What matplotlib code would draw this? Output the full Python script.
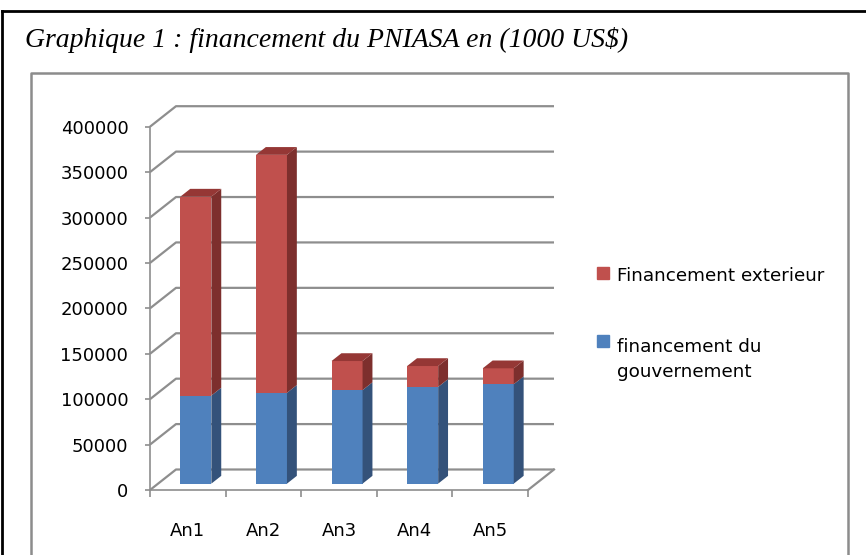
import matplotlib.pyplot as plt
from matplotlib.patches import Polygon, Rectangle
from matplotlib.lines import Line2D

categories = ['An1', 'An2', 'An3', 'An4', 'An5']
gouvernement = [97000, 100000, 103000, 106500, 109500]
exterieur = [219000, 262000, 32000, 23000, 17500]
series_names = ['Financement exterieur', 'financement du\ngouvernement']
yticks = list(range(0, 400001, 50000))
title = 'Graphique 1 : financement du PNIASA en (1000 US$)'

front_col = {'gov': '#4F81BD', 'ext': '#C0504D'}
side_col = {'gov': '#34527A', 'ext': '#7D2F2D'}
top_col = {'gov': '#3E6494', 'ext': '#953735'}
GRID = '#8E8E8E'

W, H = 866, 555
fig = plt.figure(figsize=(W / 100, H / 100), dpi=100)
ax = fig.add_axes([0, 0, 1, 1])
ax.patch.set_visible(False)

# front plane: category unit = 75.6 px, value -> px
X0, XU = 150, 75.6
Y0, YU = 490, 363.3 / 400000
ax.set_xlim(-X0 / XU, (W - X0) / XU)
ax.set_ylim(-(H - Y0) / YU, Y0 / YU)

# depth offset of the 3d box (in data units)
DX = 26 / XU
DY = 20.5 / YU
n = len(categories)

# walls / gridlines
for v in yticks:
    ax.plot([0, DX, n + DX], [v, v + DY, v + DY], color=GRID, lw=1.6, zorder=1,
            solid_capstyle='butt')
ax.plot([n, n + DX], [0, DY], color=GRID, lw=1.6, zorder=1)

# bars
BW = 31 / XU
D0, D1 = 0.31, 0.69
ddx, ddy = (D1 - D0) * DX, (D1 - D0) * DY
for i in range(n):
    xl = i + 0.5 - BW / 2 + D0 * DX
    xr = xl + BW
    base = D0 * DY
    segs = [('gov', 0, gouvernement[i]),
            ('ext', gouvernement[i], gouvernement[i] + exterieur[i])]
    for key, b, t in segs:
        ax.bar(xl, t - b, width=BW, bottom=b + base, align='edge',
               color=front_col[key], lw=0, zorder=3)
        ax.add_patch(Polygon([(xr, b + base), (xr + ddx, b + base + ddy),
                              (xr + ddx, t + base + ddy), (xr, t + base)],
                             closed=True, color=side_col[key], lw=0, zorder=3))
    key, b, t = segs[-1]
    ax.add_patch(Polygon([(xl, t + base), (xr, t + base),
                          (xr + ddx, t + base + ddy), (xl + ddx, t + base + ddy)],
                         closed=True, color=top_col[key], lw=0, zorder=3))

# axes
for s in ['top', 'right']:
    ax.spines[s].set_visible(False)
ax.spines['left'].set_position(('data', 0))
ax.spines['left'].set_bounds(0, 400000)
ax.spines['bottom'].set_position(('data', 0))
ax.spines['bottom'].set_bounds(0, n)
for s in ['left', 'bottom']:
    ax.spines[s].set_color(GRID)
    ax.spines[s].set_linewidth(1.2)

ax.set_yticks(yticks)
ax.set_yticklabels([str(v) for v in yticks])
ax.tick_params(axis='y', direction='out', length=3.6, width=1.2, color=GRID,
               pad=12, labelsize=13)
ax.set_xticks(range(n + 1))
ax.set_xticklabels([''] * (n + 1))
ax.set_xticks([i + 0.5 for i in range(n)], minor=True)
ax.set_xticklabels(categories, minor=True)
ax.tick_params(axis='x', which='major', direction='out', length=5, width=1.2, color=GRID)
ax.tick_params(axis='x', which='minor', length=0, pad=23, labelsize=13)


def px(x, y):
    return x / W, 1 - y / H


tf = fig.transFigure
# outer frame
fig.add_artist(Line2D([px(2, 0)[0], 1.0], [px(0, 11)[1]] * 2, color='black', lw=2, transform=tf))
fig.add_artist(Line2D([px(2, 0)[0]] * 2, [px(0, 11)[1], 0], color='black', lw=2, transform=tf))
# chart area frame
fig.add_artist(Line2D([px(31, 0)[0], px(31, 0)[0], px(848, 0)[0], px(848, 0)[0]],
                      [0, px(0, 72.7)[1], px(0, 72.7)[1], 0],
                      color='#8C8C8C', lw=1.8, transform=tf))

# title
fig.text(*px(25, 46.7), title, family='Liberation Serif', style='italic',
         fontsize=20, va='baseline', ha='left')

# legend (baseline given for the last line of each label)
leg_y = [(266.7, 281), (335, 376.7)]
leg_keys = ['ext', 'gov']
for (sq_top, base_y), key, name in zip(leg_y, leg_keys, series_names):
    x0, y0 = px(597, sq_top + 12)
    fig.add_artist(Rectangle((x0, y0), 12 / W, 12 / H, color=front_col[key], transform=tf))
    fig.text(*px(617, base_y), name, fontsize=13.2, va='baseline', ha='left',
             linespacing=1.45)

fig.savefig('out.png', dpi=100)
